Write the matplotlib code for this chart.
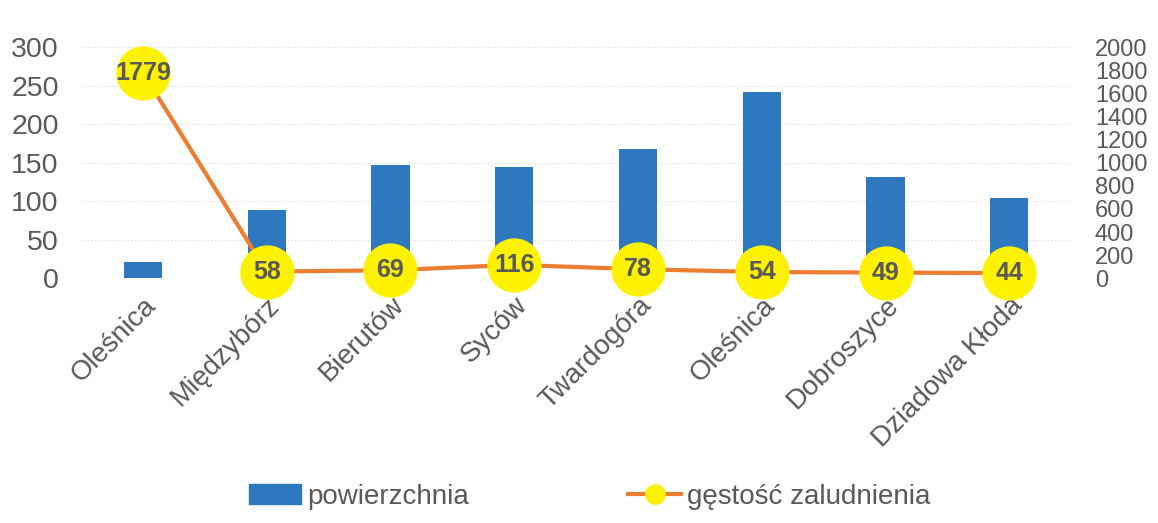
import matplotlib.pyplot as plt
from matplotlib.lines import Line2D
from matplotlib.patches import Patch

plt.rcParams['font.family'] = ['Liberation Sans', 'DejaVu Sans']

gminy = ['Oleśnica', 'Międzybórz', 'Bierutów', 'Syców', 'Twardogóra',
         'Oleśnica', 'Dobroszyce', 'Dziadowa Kłoda']
powierzchnia = [21, 88, 147, 145, 168, 242, 132, 104]
gestosc = [1779, 58, 69, 116, 78, 54, 49, 44]

bar_color = '#2E78C0'
line_color = '#ED7D31'
text_color = '#595959'

fig = plt.figure(figsize=(11.58, 5.23), dpi=100)
ax = fig.add_axes([0.07, 0.468, 0.855, 0.442])
ax2 = ax.twinx()

x = list(range(len(gminy)))
ax.bar(x, powierzchnia, width=0.31, color=bar_color, zorder=2)
ax.set_ylim(0, 300)
ax.set_yticks(range(0, 301, 50))
ax.set_xlim(-0.5, len(gminy) - 0.5)
ax.set_xticks(x)
ax.set_xticklabels(gminy, rotation=45, ha='right', rotation_mode='anchor',
                   fontsize=20, color=text_color)
ax.tick_params(axis='y', labelsize=20.5, labelcolor=text_color, length=0, pad=16)
ax.tick_params(axis='x', length=0, pad=10)
ax.grid(axis='y', color='#d9d9d9', linestyle=(0, (1, 2)), lw=0.8, zorder=0)
ax.set_axisbelow(True)

ax2.plot(x, gestosc, color=line_color, lw=3, zorder=3)
ax2.scatter(x, gestosc, s=1450, color='#FFF200', zorder=4, clip_on=False)
for xi, v in zip(x, gestosc):
    ax2.text(xi, v, str(v), ha='center', va='center', fontsize=18,
             fontweight='bold', color=text_color, zorder=5)
ax2.set_ylim(0, 2000)
ax2.set_yticks(range(0, 2001, 200))
ax2.tick_params(axis='y', labelsize=17, labelcolor=text_color, length=0, pad=17)

for a in (ax, ax2):
    for s in a.spines.values():
        s.set_visible(False)

handles = [
    Patch(color=bar_color),
    Line2D([0], [0], color=line_color, lw=3, marker='o', markersize=14,
           markerfacecolor='#FFF200', markeredgecolor='#FFF200'),
]
fig.legend(handles, ['powierzchnia', 'gęstość zaludnienia'], loc='center',
           bbox_to_anchor=(0.509, 0.05), ncol=2, frameon=False, fontsize=20,
           labelcolor=text_color, columnspacing=5.75, handlelength=1.9,
           handletextpad=0.2)

fig.savefig('out.png', dpi=100)
